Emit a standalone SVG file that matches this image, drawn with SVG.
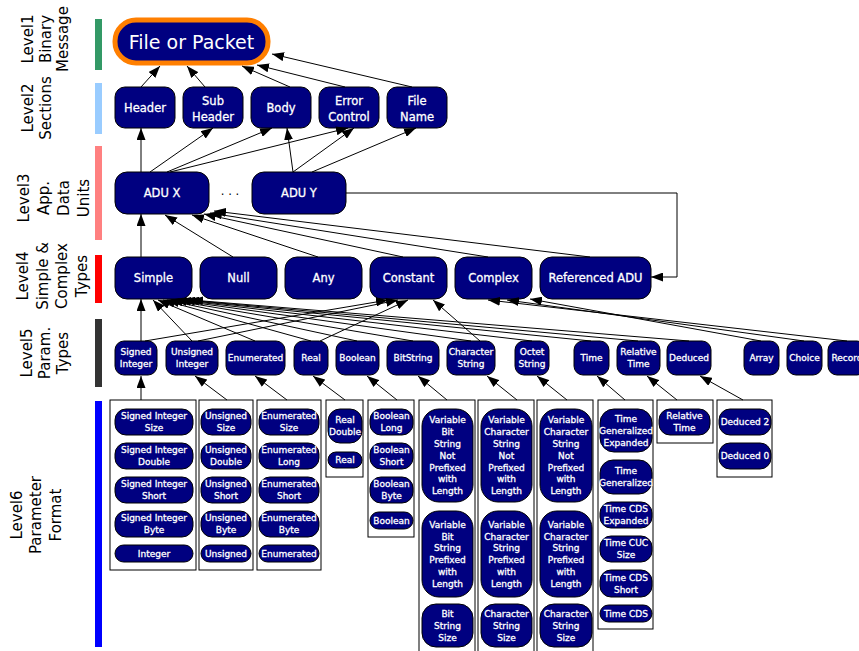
<svg xmlns="http://www.w3.org/2000/svg" width="859" height="651" viewBox="0 0 859 651">
<style>
.n{fill:#000080;stroke:#000;stroke-width:1}
.bx{fill:#fff;stroke:#000;stroke-width:1}
.t{fill:#fff;font-family:"DejaVu Sans",Verdana,sans-serif;text-anchor:middle}
.s9{font-size:9px;stroke:#fff;stroke-width:0.3px}
.s11{font-size:11.5px;stroke:#fff;stroke-width:0.3px}
.lb{fill:#000;font-family:"DejaVu Sans",Verdana,sans-serif;font-size:15px;text-anchor:middle}
.c path{fill:none;stroke:#000;stroke-width:1;marker-end:url(#ah)}
</style>
<defs>
<marker id="ah" markerUnits="userSpaceOnUse" markerWidth="12" markerHeight="9" refX="12" refY="4.5" orient="auto">
<path d="M0,0 L12,4.5 L0,9 z" fill="#000"/>
</marker>
</defs>
<rect width="859" height="651" fill="#fff"/>

<g id="levels">
<rect x="95" y="19" width="7" height="51" fill="#339966"/>
<rect x="95" y="83" width="7" height="51" fill="#99ccff"/>
<rect x="95" y="146" width="7" height="94" fill="#ff8080"/>
<rect x="95" y="255" width="7" height="48" fill="#ff0000"/>
<rect x="95" y="319" width="7" height="68" fill="#333333"/>
<rect x="95" y="401" width="7" height="246" fill="#0000ff"/>
<text class="lb" transform="translate(0,39) rotate(-90)"><tspan x="0" y="33">Level1</tspan><tspan x="0" y="50.5">Binary</tspan><tspan x="0" y="68">Message</tspan></text>
<text class="lb" transform="translate(0,108) rotate(-90)"><tspan x="0" y="33">Level2</tspan><tspan x="0" y="50.5">Sections</tspan></text>
<text class="lb" transform="translate(0,198) rotate(-90)"><tspan x="0" y="29">Level3</tspan><tspan x="0" y="48.5">App.</tspan><tspan x="0" y="68.5">Data</tspan><tspan x="0" y="88.5">Units</tspan></text>
<text class="lb" transform="translate(0,276) rotate(-90)"><tspan x="0" y="28">Level4</tspan><tspan x="0" y="47.5">Simple &amp;</tspan><tspan x="0" y="67">Complex</tspan><tspan x="0" y="86.5">Types</tspan></text>
<text class="lb" transform="translate(0,353) rotate(-90)"><tspan x="0" y="32">Level5</tspan><tspan x="0" y="50">Param.</tspan><tspan x="0" y="68">Types</tspan></text>
<text class="lb" transform="translate(0,515) rotate(-90)"><tspan x="0" y="22">Level6</tspan><tspan x="0" y="41">Parameter</tspan><tspan x="0" y="61">Format</tspan></text>
</g>

<g id="file">
<rect x="115" y="20" width="153" height="43" rx="21" fill="#000080" stroke="#ff7f00" stroke-width="5"/>
<text class="t" x="191.5" y="48.5" font-size="19">File or Packet</text>
</g>

<g id="header"><rect class="n" x="115" y="87" width="60" height="41" rx="10"/><text class="t s11" x="145" y="111.5">Header</text></g>
<g id="subheader"><rect class="n" x="183" y="87" width="60" height="41" rx="10"/><text class="t s11"><tspan x="213" y="104.7">Sub</tspan><tspan x="213" y="120.7">Header</tspan></text></g>
<g id="body"><rect class="n" x="251" y="87" width="60" height="41" rx="10"/><text class="t s11" x="281" y="111.5">Body</text></g>
<g id="errorcontrol"><rect class="n" x="319" y="87" width="60" height="41" rx="10"/><text class="t s11"><tspan x="349" y="104.7">Error</tspan><tspan x="349" y="120.7">Control</tspan></text></g>
<g id="filename"><rect class="n" x="387" y="87" width="60" height="41" rx="10"/><text class="t s11"><tspan x="417" y="104.7">File</tspan><tspan x="417" y="120.7">Name</tspan></text></g>

<g id="adux"><rect class="n" x="115" y="172" width="94" height="42" rx="12"/><text class="t s11" x="162" y="197">ADU X</text></g>
<text x="230" y="199" font-family="DejaVu Sans,sans-serif" font-size="11.5" text-anchor="middle" fill="#000">· · ·</text>
<g id="aduy"><rect class="n" x="252" y="172" width="94" height="42" rx="12"/><text class="t s11" x="299" y="197">ADU Y</text></g>

<g id="simple"><rect class="n" x="115" y="257" width="77" height="42" rx="12"/><text class="t s11" x="153.5" y="282">Simple</text></g>
<g id="null"><rect class="n" x="200" y="257" width="77" height="42" rx="12"/><text class="t s11" x="238.5" y="282">Null</text></g>
<g id="any"><rect class="n" x="285" y="257" width="77" height="42" rx="12"/><text class="t s11" x="323.5" y="282">Any</text></g>
<g id="constant"><rect class="n" x="370" y="257" width="77" height="42" rx="12"/><text class="t s11" x="408.5" y="282">Constant</text></g>
<g id="complex"><rect class="n" x="455" y="257" width="77" height="42" rx="12"/><text class="t s11" x="493.5" y="282">Complex</text></g>
<g id="referencedadu"><rect class="n" x="540" y="257" width="111" height="42" rx="12"/><text class="t s11" x="595.5" y="282">Referenced ADU</text></g>

<g id="p-signed"><rect class="n" x="115" y="341" width="42" height="34" rx="9"/><text class="t s9"><tspan x="136" y="355.4">Signed</tspan><tspan x="136" y="367.2">Integer</tspan></text></g>
<g id="p-unsigned"><rect class="n" x="166" y="341" width="52" height="34" rx="9"/><text class="t s9"><tspan x="192" y="355.4">Unsigned</tspan><tspan x="192" y="367.2">Integer</tspan></text></g>
<g id="p-enum"><rect class="n" x="226" y="341" width="59" height="34" rx="9"/><text class="t s9" x="255.5" y="361.3">Enumerated</text></g>
<g id="p-real"><rect class="n" x="294" y="341" width="34" height="34" rx="9"/><text class="t s9" x="311" y="361.3">Real</text></g>
<g id="p-boolean"><rect class="n" x="336" y="341" width="43" height="34" rx="9"/><text class="t s9" x="357.5" y="361.3">Boolean</text></g>
<g id="p-bitstring"><rect class="n" x="387" y="341" width="52" height="34" rx="9"/><text class="t s9" x="413" y="361.3">BitString</text></g>
<g id="p-charstring"><rect class="n" x="447" y="341" width="48" height="34" rx="9"/><text class="t s9"><tspan x="471" y="355.4">Character</tspan><tspan x="471" y="367.2">String</tspan></text></g>
<g id="p-octet"><rect class="n" x="515" y="341" width="34" height="34" rx="9"/><text class="t s9"><tspan x="532" y="355.4">Octet</tspan><tspan x="532" y="367.2">String</tspan></text></g>
<g id="p-time"><rect class="n" x="574" y="341" width="35" height="34" rx="9"/><text class="t s9" x="591.5" y="361.3">Time</text></g>
<g id="p-reltime"><rect class="n" x="617" y="341" width="43" height="34" rx="9"/><text class="t s9"><tspan x="638.5" y="355.4">Relative</tspan><tspan x="638.5" y="367.2">Time</tspan></text></g>
<g id="p-deduced"><rect class="n" x="667" y="341" width="44" height="34" rx="9"/><text class="t s9" x="689" y="361.3">Deduced</text></g>
<g id="p-array"><rect class="n" x="744" y="341" width="35" height="34" rx="9"/><text class="t s9" x="761.5" y="361.3">Array</text></g>
<g id="p-choice"><rect class="n" x="787" y="341" width="35" height="34" rx="9"/><text class="t s9" x="804.5" y="361.3">Choice</text></g>
<g id="p-record"><rect class="n" x="828" y="341" width="38" height="34" rx="9"/><text class="t s9" x="847" y="361.3">Record</text></g>

<g id="f-signed">
<rect class="bx" x="110" y="400" width="86" height="170"/>
<rect class="n" x="115" y="409" width="78" height="26" rx="11"/><text class="t s9"><tspan x="154" y="419.4">Signed Integer</tspan><tspan x="154" y="431.2">Size</tspan></text>
<rect class="n" x="115" y="443" width="78" height="26" rx="11"/><text class="t s9"><tspan x="154" y="453.4">Signed Integer</tspan><tspan x="154" y="465.2">Double</tspan></text>
<rect class="n" x="115" y="477" width="78" height="26" rx="11"/><text class="t s9"><tspan x="154" y="487.4">Signed Integer</tspan><tspan x="154" y="499.2">Short</tspan></text>
<rect class="n" x="115" y="511" width="78" height="26" rx="11"/><text class="t s9"><tspan x="154" y="521.4">Signed Integer</tspan><tspan x="154" y="533.2">Byte</tspan></text>
<rect class="n" x="115" y="545" width="78" height="17" rx="8.5"/><text class="t s9" x="154" y="556.8">Integer</text>
</g>
<g id="f-unsigned">
<rect class="bx" x="199" y="400" width="54" height="170"/>
<rect class="n" x="201" y="409" width="50" height="26" rx="11"/><text class="t s9"><tspan x="226" y="419.4">Unsigned</tspan><tspan x="226" y="431.2">Size</tspan></text>
<rect class="n" x="201" y="443" width="50" height="26" rx="11"/><text class="t s9"><tspan x="226" y="453.4">Unsigned</tspan><tspan x="226" y="465.2">Double</tspan></text>
<rect class="n" x="201" y="477" width="50" height="26" rx="11"/><text class="t s9"><tspan x="226" y="487.4">Unsigned</tspan><tspan x="226" y="499.2">Short</tspan></text>
<rect class="n" x="201" y="511" width="50" height="26" rx="11"/><text class="t s9"><tspan x="226" y="521.4">Unsigned</tspan><tspan x="226" y="533.2">Byte</tspan></text>
<rect class="n" x="201" y="545" width="50" height="17" rx="8.5"/><text class="t s9" x="226" y="556.8">Unsigned</text>
</g>
<g id="f-enum">
<rect class="bx" x="257" y="400" width="64" height="170"/>
<rect class="n" x="259" y="409" width="60" height="26" rx="11"/><text class="t s9"><tspan x="289" y="419.4">Enumerated</tspan><tspan x="289" y="431.2">Size</tspan></text>
<rect class="n" x="259" y="443" width="60" height="26" rx="11"/><text class="t s9"><tspan x="289" y="453.4">Enumerated</tspan><tspan x="289" y="465.2">Long</tspan></text>
<rect class="n" x="259" y="477" width="60" height="26" rx="11"/><text class="t s9"><tspan x="289" y="487.4">Enumerated</tspan><tspan x="289" y="499.2">Short</tspan></text>
<rect class="n" x="259" y="511" width="60" height="26" rx="11"/><text class="t s9"><tspan x="289" y="521.4">Enumerated</tspan><tspan x="289" y="533.2">Byte</tspan></text>
<rect class="n" x="259" y="545" width="60" height="17" rx="8.5"/><text class="t s9" x="289" y="556.8">Enumerated</text>
</g>
<g id="f-real">
<rect class="bx" x="326" y="400" width="37" height="77"/>
<rect class="n" x="328" y="409" width="34" height="34" rx="12"/><text class="t s9"><tspan x="345" y="423.4">Real</tspan><tspan x="345" y="435.2">Double</tspan></text>
<rect class="n" x="328" y="452" width="34" height="16" rx="8"/><text class="t s9" x="345" y="463.3">Real</text>
</g>
<g id="f-boolean">
<rect class="bx" x="368" y="400" width="46" height="137"/>
<rect class="n" x="370" y="409" width="43" height="26" rx="11"/><text class="t s9"><tspan x="391.5" y="419.4">Boolean</tspan><tspan x="391.5" y="431.2">Long</tspan></text>
<rect class="n" x="370" y="443" width="43" height="26" rx="11"/><text class="t s9"><tspan x="391.5" y="453.4">Boolean</tspan><tspan x="391.5" y="465.2">Short</tspan></text>
<rect class="n" x="370" y="477" width="43" height="26" rx="11"/><text class="t s9"><tspan x="391.5" y="487.4">Boolean</tspan><tspan x="391.5" y="499.2">Byte</tspan></text>
<rect class="n" x="370" y="512" width="43" height="17" rx="8.5"/><text class="t s9" x="391.5" y="523.8">Boolean</text>
</g>
<g id="f-bitstring">
<rect class="bx" x="419" y="400" width="56" height="260"/>
<rect class="n" x="422" y="409" width="51" height="93" rx="17"/><text class="t s9"><tspan x="447.5" y="423.4">Variable</tspan><tspan x="447.5" y="435.2">Bit</tspan><tspan x="447.5" y="447">String</tspan><tspan x="447.5" y="458.8">Not</tspan><tspan x="447.5" y="470.6">Prefixed</tspan><tspan x="447.5" y="482.4">with</tspan><tspan x="447.5" y="494.2">Length</tspan></text>
<rect class="n" x="422" y="511" width="51" height="86" rx="17"/><text class="t s9"><tspan x="447.5" y="527.8">Variable</tspan><tspan x="447.5" y="539.6">Bit</tspan><tspan x="447.5" y="551.4">String</tspan><tspan x="447.5" y="563.2">Prefixed</tspan><tspan x="447.5" y="575">with</tspan><tspan x="447.5" y="586.8">Length</tspan></text>
<rect class="n" x="422" y="604" width="51" height="43" rx="14"/><text class="t s9"><tspan x="447.5" y="617">Bit</tspan><tspan x="447.5" y="628.8">String</tspan><tspan x="447.5" y="640.6">Size</tspan></text>
</g>
<g id="f-charstring">
<rect class="bx" x="478" y="400" width="56" height="260"/>
<rect class="n" x="481" y="409" width="51" height="93" rx="17"/><text class="t s9"><tspan x="506.5" y="423.4">Variable</tspan><tspan x="506.5" y="435.2">Character</tspan><tspan x="506.5" y="447">String</tspan><tspan x="506.5" y="458.8">Not</tspan><tspan x="506.5" y="470.6">Prefixed</tspan><tspan x="506.5" y="482.4">with</tspan><tspan x="506.5" y="494.2">Length</tspan></text>
<rect class="n" x="481" y="511" width="51" height="86" rx="17"/><text class="t s9"><tspan x="506.5" y="527.8">Variable</tspan><tspan x="506.5" y="539.6">Character</tspan><tspan x="506.5" y="551.4">String</tspan><tspan x="506.5" y="563.2">Prefixed</tspan><tspan x="506.5" y="575">with</tspan><tspan x="506.5" y="586.8">Length</tspan></text>
<rect class="n" x="481" y="604" width="51" height="43" rx="14"/><text class="t s9"><tspan x="506.5" y="617">Character</tspan><tspan x="506.5" y="628.8">String</tspan><tspan x="506.5" y="640.6">Size</tspan></text>
</g>
<g id="f-octet">
<rect class="bx" x="537" y="400" width="56" height="260"/>
<rect class="n" x="540" y="409" width="52" height="93" rx="17"/><text class="t s9"><tspan x="566" y="423.4">Variable</tspan><tspan x="566" y="435.2">Character</tspan><tspan x="566" y="447">String</tspan><tspan x="566" y="458.8">Not</tspan><tspan x="566" y="470.6">Prefixed</tspan><tspan x="566" y="482.4">with</tspan><tspan x="566" y="494.2">Length</tspan></text>
<rect class="n" x="540" y="511" width="52" height="86" rx="17"/><text class="t s9"><tspan x="566" y="527.8">Variable</tspan><tspan x="566" y="539.6">Character</tspan><tspan x="566" y="551.4">String</tspan><tspan x="566" y="563.2">Prefixed</tspan><tspan x="566" y="575">with</tspan><tspan x="566" y="586.8">Length</tspan></text>
<rect class="n" x="540" y="604" width="52" height="43" rx="14"/><text class="t s9"><tspan x="566" y="617">Character</tspan><tspan x="566" y="628.8">String</tspan><tspan x="566" y="640.6">Size</tspan></text>
</g>
<g id="f-time">
<rect class="bx" x="598" y="400" width="55" height="229"/>
<rect class="n" x="600" y="409" width="52" height="43" rx="14"/><text class="t s9"><tspan x="626" y="422">Time</tspan><tspan x="626" y="433.8">Generalized</tspan><tspan x="626" y="445.6">Expanded</tspan></text>
<rect class="n" x="600" y="460" width="52" height="34" rx="13"/><text class="t s9"><tspan x="626" y="474.4">Time</tspan><tspan x="626" y="486.2">Generalized</tspan></text>
<rect class="n" x="600" y="502" width="52" height="26" rx="11"/><text class="t s9"><tspan x="626" y="512.4">Time CDS</tspan><tspan x="626" y="524.2">Expanded</tspan></text>
<rect class="n" x="600" y="536" width="52" height="26" rx="11"/><text class="t s9"><tspan x="626" y="546.4">Time CUC</tspan><tspan x="626" y="558.2">Size</tspan></text>
<rect class="n" x="600" y="570" width="52" height="27" rx="11"/><text class="t s9"><tspan x="626" y="580.9">Time CDS</tspan><tspan x="626" y="592.7">Short</tspan></text>
<rect class="n" x="600" y="605" width="52" height="17" rx="8.5"/><text class="t s9" x="626" y="616.8">Time CDS</text>
</g>
<g id="f-reltime">
<rect class="bx" x="657" y="400" width="56" height="43"/>
<rect class="n" x="659" y="409" width="51" height="26" rx="11"/><text class="t s9"><tspan x="684.5" y="419.4">Relative</tspan><tspan x="684.5" y="431.2">Time</tspan></text>
</g>
<g id="f-deduced">
<rect class="bx" x="717" y="400" width="55" height="77"/>
<rect class="n" x="719" y="409" width="52" height="26" rx="11"/><text class="t s9" x="745" y="425.3">Deduced 2</text>
<rect class="n" x="719" y="443" width="52" height="26" rx="11"/><text class="t s9" x="745" y="459.3">Deduced 0</text>
</g>

<g id="connectors" class="c">
<path d="M141,87 L160,66"/>
<path d="M205,87 L187,66"/>
<path d="M290,87 L242,66"/>
<path d="M345,87 L257,65"/>
<path d="M412,87 L272,54"/>
<path d="M141,172 L141,128"/>
<path d="M150,172 L213,128"/>
<path d="M167,172 L272,128"/>
<path d="M170,172 L348,128"/>
<path d="M293,172 L287,128"/>
<path d="M293,172 L354,128"/>
<path d="M312,172 L416,128"/>
<path d="M141,257 L141,214"/>
<path d="M233,257 L165,215"/>
<path d="M318,257 L192,215"/>
<path d="M403,257 L204,214"/>
<path d="M488,257 L210,213"/>
<path d="M590,257 L214,211"/>
<path d="M346,193 L677,193 L677,277 L651,277"/>
<path d="M141,341 L141,299"/>
<path d="M192,341 L153,300"/>
<path d="M255,341 L158,300"/>
<path d="M311,341 L163,300"/>
<path d="M357,341 L167,300"/>
<path d="M413,341 L171,300"/>
<path d="M471,341 L175,300"/>
<path d="M532,341 L179,300"/>
<path d="M591,341 L183,300"/>
<path d="M638,341 L187,300"/>
<path d="M689,341 L191,300"/>
<path d="M145,341 L388,300"/>
<path d="M198,341 L398,300"/>
<path d="M320,341 L408,300"/>
<path d="M480,341 L433,300"/>
<path d="M761,341 L530,299"/>
<path d="M804,341 L507,300"/>
<path d="M847,341 L488,300"/>
<path d="M141,400 L141,376"/>
<path d="M227,400 L195,376"/>
<path d="M287,400 L255,376"/>
<path d="M345,400 L313,376"/>
<path d="M397,400 L367,376"/>
<path d="M447,400 L418,376"/>
<path d="M517,400 L487,376"/>
<path d="M567,400 L537,376"/>
<path d="M625,400 L597,376"/>
<path d="M677,400 L647,376"/>
<path d="M743,400 L700,376"/>
</g>
</svg>
